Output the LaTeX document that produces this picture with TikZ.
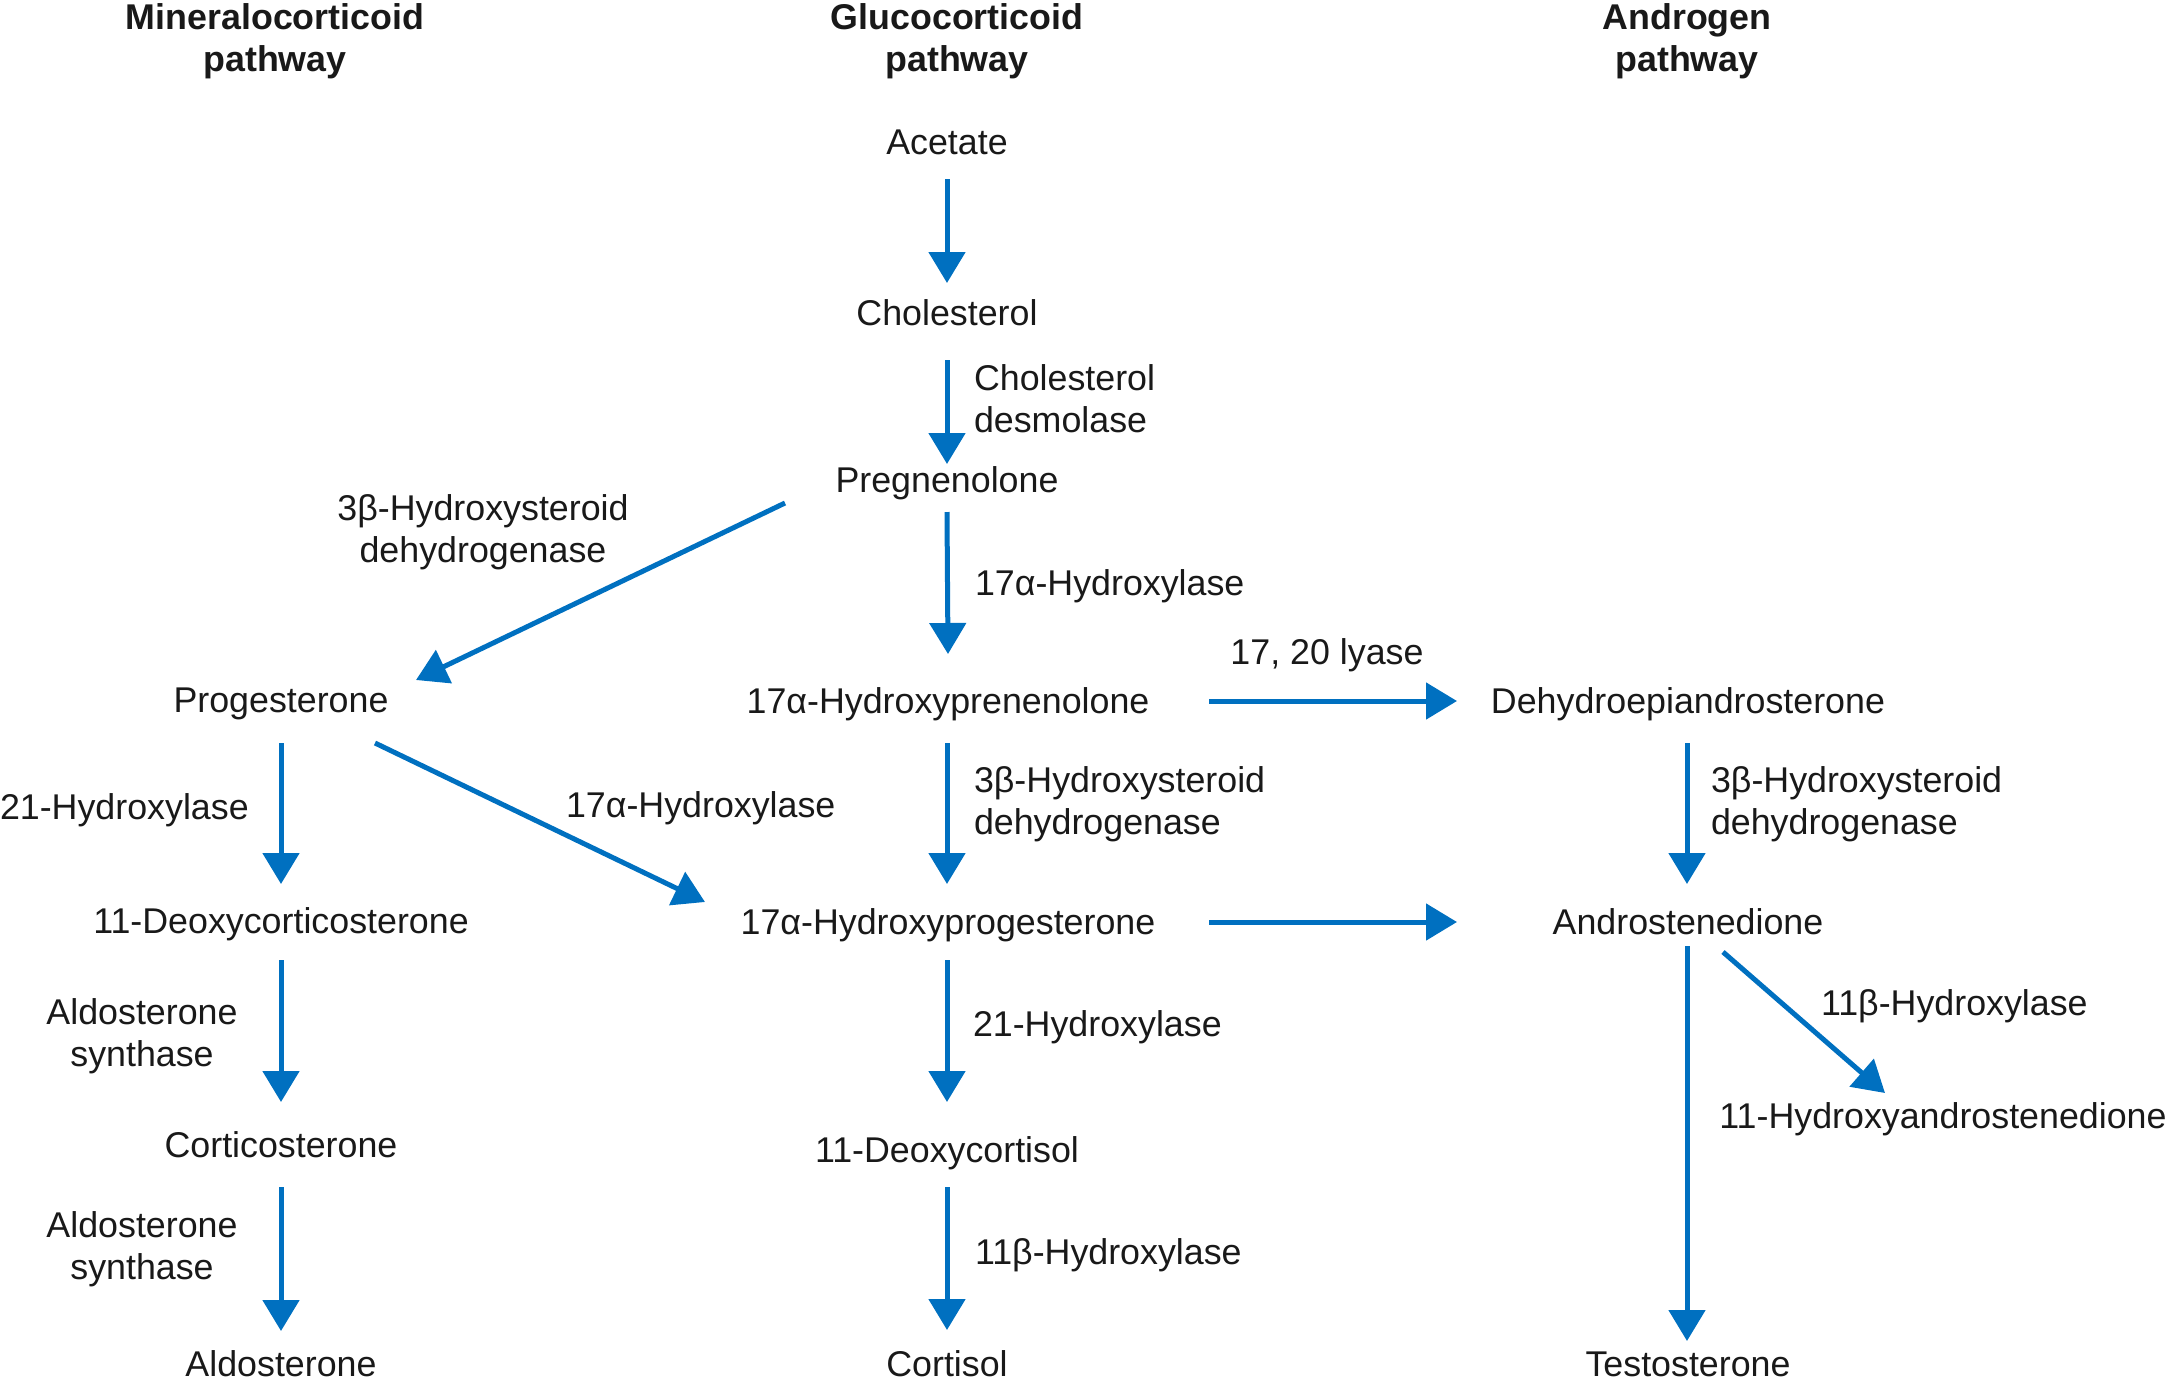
\documentclass[tikz,border=0pt]{standalone}
\usepackage{fontspec}
\setmainfont{Liberation Sans}
\usetikzlibrary{arrows.meta}
\definecolor{pathblue}{HTML}{0070C0}
\begin{document}
\begin{tikzpicture}[x=0.5pt,y=-0.5pt,
  every node/.style={inner sep=0pt,outer sep=0pt,font=\fontsize{17.9pt}{20.7pt}\selectfont,text=black!90},
  cmp/.style={text height=12.8pt,text depth=0pt,anchor=center},
  lab/.style={text height=12.8pt,text depth=0pt,anchor=west},
  mlab/.style={align=left,anchor=north west},
  clab/.style={align=center,anchor=north},
  head/.style={align=center,anchor=north,font=\fontsize{17.9pt}{20.7pt}\selectfont\bfseries},
  arr/.style={draw=pathblue,line width=2.5pt,-{Triangle[length=15.5pt,width=18pt]}}]
\path[use as bounding box] (0,0) rectangle (2165,1383);

% headings
\node[head] (hmin) at (275,4) {Mineralocorticoid\\pathway};
\node[head] (hglu) at (957,4) {Glucocorticoid\\pathway};
\node[head] (hand) at (1687,4) {Androgen\\pathway};

% compounds
\node[cmp] (acetate) at (947,142) {Acetate};
\node[cmp] (chol) at (947,313) {Cholesterol};
\node[cmp] (preg) at (947,480) {Pregnenolone};
\node[cmp] (ohpreg) at (948,701) {17α-Hydroxyprenenolone};
\node[cmp] (ohprog) at (948,922) {17α-Hydroxyprogesterone};
\node[cmp] (doxcort) at (947,1150) {11-Deoxycortisol};
\node[cmp] (cortisol) at (947,1364) {Cortisol};
\node[cmp] (prog) at (281,700) {Progesterone};
\node[cmp] (doc) at (281,921) {11-Deoxycorticosterone};
\node[cmp] (cortico) at (281,1145) {Corticosterone};
\node[cmp] (aldo) at (281,1364) {Aldosterone};
\node[cmp] (dhea) at (1688,701) {Dehydroepiandrosterone};
\node[cmp] (andro) at (1688,922) {Androstenedione};
\node[cmp] (ohandro) at (1943,1116) {11-Hydroxyandrostenedione};
\node[cmp] (testo) at (1688,1364) {Testosterone};

% enzyme labels
\node[mlab] (lchd) at (974,365) {Cholesterol\\desmolase};
\node[lab] (l17a) at (975,583) {17α-Hydroxylase};
\node[clab] (l3bl) at (483,495) {3β-Hydroxysteroid\\dehydrogenase};
\node[cmp] (lly) at (1327,652) {17, 20 lyase};
\node[mlab] (l3bc) at (974,767) {3β-Hydroxysteroid\\dehydrogenase};
\node[mlab] (l3br) at (1711,767) {3β-Hydroxysteroid\\dehydrogenase};
\node[lab] (l21l) at (0,807) {21-Hydroxylase};
\node[lab] (l17d) at (566,805) {17α-Hydroxylase};
\node[clab] (las1) at (142,999) {Aldosterone\\synthase};
\node[clab] (las2) at (142,1212) {Aldosterone\\synthase};
\node[lab] (l21c) at (973,1024) {21-Hydroxylase};
\node[lab] (l11c) at (975,1252) {11β-Hydroxylase};
\node[lab] (l11r) at (1821,1003) {11β-Hydroxylase};

% connectors
\draw[arr] ([shift={(0,37)}]acetate.center) -- ([shift={(0,-30)}]chol.center);
\draw[arr] ([shift={(0,47)}]chol.center) -- ([shift={(0,-16)}]preg.center);
\draw[arr] ([shift={(0,32)}]preg.center) -- ([shift={(0,-47)}]ohpreg.center);
\draw[arr] ([shift={(0,43)}]prog.center) -- ([shift={(0,-37)}]doc.center);
\draw[arr] ([shift={(0,39)}]doc.center) -- ([shift={(0,-43)}]cortico.center);
\draw[arr] ([shift={(0,42)}]cortico.center) -- ([shift={(0,-33)}]aldo.center);
\draw[arr] ([shift={(-1,42)}]ohpreg.center) -- ([shift={(-1,-38)}]ohprog.center);
\draw[arr] ([shift={(-1,38)}]ohprog.center) -- ([shift={(0,-48)}]doxcort.center);
\draw[arr] ([shift={(0,37)}]doxcort.center) -- ([shift={(0,-34)}]cortisol.center);
\draw[arr] ([shift={(-1,42)}]dhea.center) -- ([shift={(-1,-38)}]andro.center);
\draw[arr] ([shift={(-1,24)}]andro.center) -- ([shift={(-1,-23)}]testo.center);
\draw[arr] ([shift={(261,0)}]ohpreg.center) -- ([shift={(-231,0)}]dhea.center);
\draw[arr] ([shift={(261,0)}]ohprog.center) -- ([shift={(-231,0)}]andro.center);
\draw[arr] ([shift={(-162,23)}]preg.center) -- ([shift={(135,-20)}]prog.center);
\draw[arr] ([shift={(94,43)}]prog.center) -- ([shift={(-243,-20)}]ohprog.center);
\draw[arr] ([shift={(35,30)}]andro.center) -- ([shift={(-58,-23)}]ohandro.center);
\end{tikzpicture}
\end{document}
